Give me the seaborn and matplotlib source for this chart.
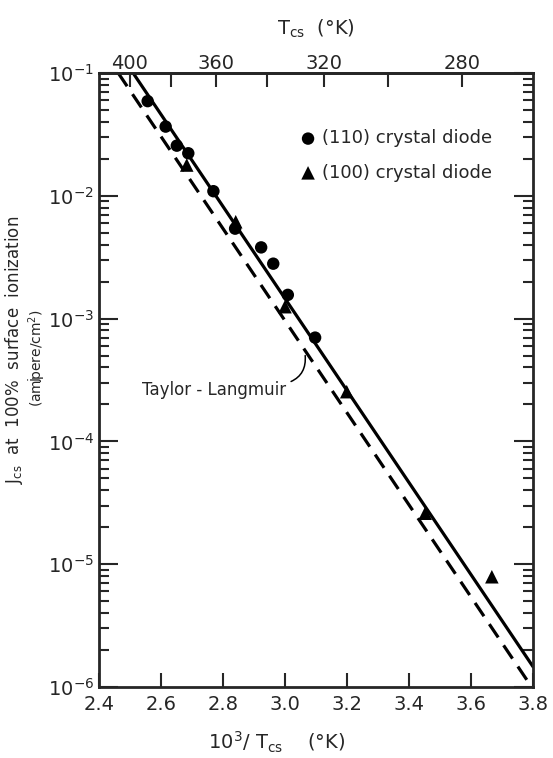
import matplotlib
matplotlib.use("Agg")
import matplotlib.pyplot as plt
import numpy as np
import pandas as pd
import seaborn as sns
from matplotlib.ticker import FixedLocator, NullFormatter, LogLocator

# (110) crystal diode points: 10^3/T and current density
x110 = [2.557, 2.615, 2.651, 2.688, 2.769, 2.839, 2.923, 2.962, 3.009, 3.097]
j110 = [5.9e-2, 3.66e-2, 2.56e-2, 2.22e-2, 1.09e-2, 5.4e-3, 3.8e-3, 2.8e-3,
        1.56e-3, 7.0e-4]

# (100) crystal diode points
x100 = [2.683, 2.841, 3.000, 3.199, 3.452, 3.667]
j100 = [1.78e-2, 6.15e-3, 1.25e-3, 2.54e-4, 2.6e-5, 7.9e-6]

# fitted solid line and Taylor-Langmuir dashed line (end points)
fit_x = [2.51, 3.80]
fit_j = [1.0e-1, 1.46e-6]
tl_x = [2.462, 3.80]
tl_j = [1.0e-1, 9.6e-7]

top_major = [400, 360, 320, 280]
top_minor = [380, 340, 300]
x_ticks = [2.4, 2.6, 2.8, 3.0, 3.2, 3.4, 3.6, 3.8]


def inv(v):
    v = np.asarray(v, dtype=float)
    with np.errstate(divide="ignore"):
        return 1000.0 / v


def main():
    sns.set_style("ticks")
    plt.rcParams["font.family"] = ["DejaVu Sans"]
    fig = plt.figure(figsize=(5.53, 7.58), dpi=100)
    ax = fig.add_axes([0.179, 0.0937, 0.785, 0.81])

    fit = pd.DataFrame({"x": fit_x, "j": fit_j})
    tl = pd.DataFrame({"x": tl_x, "j": tl_j})
    sns.lineplot(data=fit, x="x", y="j", ax=ax, color="black", lw=2.3)
    sns.lineplot(data=tl, x="x", y="j", ax=ax, color="black", lw=2.3,
                 dashes=False)
    ax.lines[-1].set_dashes([5, 3])

    d110 = pd.DataFrame({"x": x110, "j": j110})
    d100 = pd.DataFrame({"x": x100, "j": j100})
    sns.scatterplot(data=d110, x="x", y="j", ax=ax, marker="o", s=80,
                    color="black", edgecolor="none",
                    label="(110) crystal diode")
    sns.scatterplot(data=d100, x="x", y="j", ax=ax, marker="^", s=95,
                    color="black", edgecolor="none",
                    label="(100) crystal diode")

    ax.set_yscale("log")
    ax.set_xlim(2.4, 3.8)
    ax.set_ylim(1e-6, 1e-1)
    ax.set_xticks(x_ticks)
    ax.set_xticklabels([f"{t:.1f}" for t in x_ticks])
    ax.yaxis.set_minor_locator(LogLocator(base=10, subs=np.arange(2, 10)))
    ax.yaxis.set_minor_formatter(NullFormatter())

    ax.tick_params(axis="both", which="both", direction="in",
                   top=False, right=True, labelsize=14, width=1.5)
    ax.tick_params(axis="y", which="major", length=14)
    ax.tick_params(axis="y", which="minor", length=7)
    ax.tick_params(axis="x", which="major", length=10, pad=6)
    for sp in ax.spines.values():
        sp.set_linewidth(2)
        sp.set_visible(True)

    sec = ax.secondary_xaxis("top", functions=(inv, inv))
    sec.xaxis.set_major_locator(FixedLocator(top_major))
    sec.xaxis.set_minor_locator(FixedLocator(top_minor))
    sec.tick_params(which="both", direction="in", length=10, width=1.5,
                    labelsize=14, pad=0)
    sec.spines["top"].set_linewidth(2)
    sec.set_xlabel("T$_{\\mathrm{cs}}$  (°K)", fontsize=14, labelpad=14)

    ax.set_xlabel("10$^3$/ T$_{\\mathrm{cs}}$    (°K)", fontsize=14)
    ax.xaxis.set_label_coords(0.41, -0.07)

    # y label drawn as two rotated lines, like the original lettering
    fig.text(0.025, 0.538, "J$_{\\mathrm{cs}}$  at  100%  surface  ionization",
             rotation=90, ha="center", va="center", fontsize=12)
    fig.text(0.068, 0.528, "(ampere/cm$^2$)", rotation=90,
             ha="center", va="center", fontsize=10)

    ax.legend(loc="upper left", bbox_to_anchor=(0.44, 0.92), frameon=False,
              fontsize=13, handletextpad=0.2, labelspacing=0.9,
              handlelength=1.2, borderaxespad=0)

    ax.annotate("Taylor - Langmuir", xy=(3.065, 5.0e-4),
                xytext=(2.54, 2.6e-4),
                fontsize=12, ha="left", va="center",
                arrowprops=dict(arrowstyle="-", lw=1.1, color="black",
                                connectionstyle="arc3,rad=0.4",
                                shrinkA=1, shrinkB=0,
                                relpos=(1.0, 0.9)))

    fig.savefig("out.png", dpi=100)


if __name__ == "__main__":
    main()
